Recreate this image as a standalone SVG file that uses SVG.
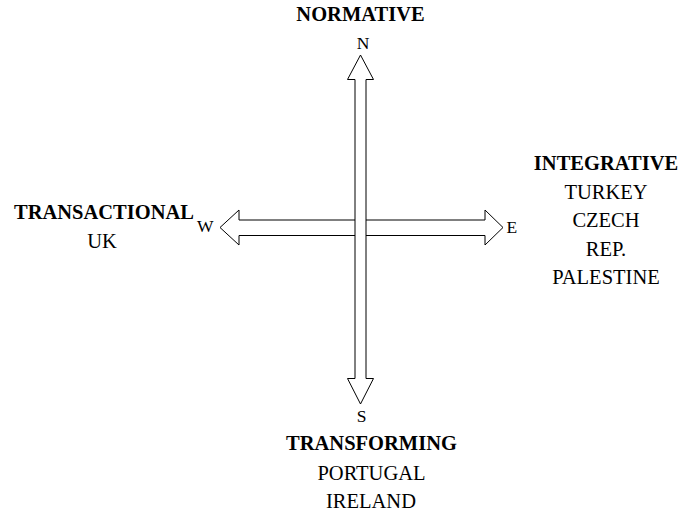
<svg xmlns="http://www.w3.org/2000/svg" width="683" height="511" viewBox="0 0 683 511">
  <style>
    text { font-family: 'Liberation Serif', 'Times New Roman', Times, 'DejaVu Serif', serif; fill: #000; }
    .title { font-size: 20.5px; font-weight: bold; }
    .item { font-size: 20.5px; }
    .dir { font-size: 17.5px; }
    .arrow { fill: #fff; stroke: #000; stroke-width: 1; stroke-linejoin: miter; }
  </style>
  <rect width="683" height="511" fill="#fff"/>

  <!-- compass arrows: east-west first, north-south drawn over it -->
  <g id="connectors">
    <path class="arrow" d="M220,227.5 L239,210 L239,220 L485,220 L485,210 L503,227.5 L485,245 L485,235.5 L239,235.5 L239,245 Z"/>
    <path class="arrow" d="M360.5,55 L373.5,79.5 L366,79.5 L366,378.5 L373.5,378.5 L360.5,404 L347.5,378.5 L355,378.5 L355,79.5 L347.5,79.5 Z"/>
  </g>

  <g font-family="Liberation Serif, serif">
    <g id="north">
      <text class="title" x="360.5" y="21" text-anchor="middle">NORMATIVE</text>
      <text class="dir" x="363" y="49" text-anchor="middle">N</text>
    </g>

    <g id="west">
      <text class="title" x="104" y="219" text-anchor="middle">TRANSACTIONAL</text>
      <text class="item" x="102" y="248" text-anchor="middle">UK</text>
      <text class="dir" x="197" y="232">W</text>
    </g>

    <g id="east">
      <text class="dir" x="506.5" y="233">E</text>
      <text class="title" x="606" y="170" text-anchor="middle">INTEGRATIVE</text>
      <text class="item" x="606" y="198.5" text-anchor="middle">TURKEY</text>
      <text class="item" x="606" y="227" text-anchor="middle">CZECH</text>
      <text class="item" x="606" y="255.5" text-anchor="middle">REP.</text>
      <text class="item" x="606" y="284" text-anchor="middle">PALESTINE</text>
    </g>

    <g id="south">
      <text class="dir" x="361.5" y="422" text-anchor="middle">S</text>
      <text class="title" x="371.5" y="450" text-anchor="middle">TRANSFORMING</text>
      <text class="item" x="371.5" y="479.5" text-anchor="middle">PORTUGAL</text>
      <text class="item" x="371" y="508" text-anchor="middle">IRELAND</text>
    </g>
  </g>
</svg>
